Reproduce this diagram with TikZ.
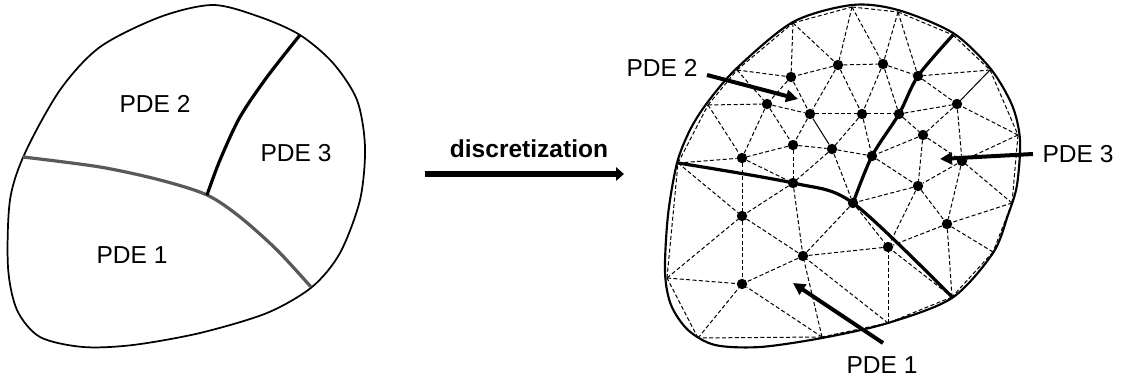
\documentclass[tikz,border=0pt]{standalone}
\usepackage{fontspec}
\setmainfont{Liberation Sans}
\usetikzlibrary{arrows.meta}

\begin{document}
\begin{tikzpicture}[
			x=0.75pt, y=-0.75pt,
			lbl/.style={font=\fontsize{18.4}{22}\selectfont, inner sep=0pt, anchor=base},
			outline/.style={line width=1.3pt},
			border/.style={line width=2.4pt},
			mesh/.style={line width=0.75pt, dash pattern=on 3pt off 1.8pt},
			edge/.style={line width=0.75pt},
			dot/.style={circle, fill=black, inner sep=0pt, minimum size=7.8pt},
			pointer/.style={line width=3pt, -{Triangle[length=9pt,width=9pt]}}
		]
		\useasboundingbox (0,0) rectangle (1121,381);
		\draw[outline] plot[smooth cycle] coordinates {(213,5) (160,17) (100,47) (60,90) (25,153) (10,200) (8,267) (17,310) (40,337) (83,347) (133,345) (200,333) (267,313) (312,287) (340,253) (360,200) (365,147) (357,100) (333,63) (300,35) (260,17)};
		\draw[border, color=black!65] plot[smooth] coordinates {(23,157) (100,167) (160,180) (207,195) (240,217) (277,250) (311,287)};
		\draw[border] plot[smooth] coordinates {(300,35) (267,77) (240,117) (220,160) (207,195)};
		\node[lbl] (left2) at (155,113) {PDE 2};
		\node[lbl] (left3) at (296,162) {PDE 3};
		\node[lbl] (left1) at (132,263) {PDE 1};
		\node[lbl, font=\fontsize{18.4}{22}\selectfont\bfseries] (disc) at (529,158) {discretization};
		\coordinate (ds) at (425,174);
		\coordinate (de) at (624,174);
		\draw[line width=4.5pt, -{Triangle[length=6pt,width=10pt]}] (ds) -- (de);
		\foreach \vid/\x/\y in {b1/852/7, b2/898/12, b3/793/23, b4/953/35, b5/990/70, b6/737/70, b7/708/105, b8/1018/135, b9/678/163, b10/667/278, b11/698/338, b12/822/337, b13/888/323, b14/952/297, b15/993/252, b16/1012/203}
			\coordinate (\vid) at (\x,\y);
		\foreach \vid/\x/\y in {n1/838/65, n2/883/64, n3/791/77, n4/918/76, n5/767/104, n6/810/114, n7/862/114, n8/899/114, n9/957/104, n10/923/135, n11/793/145, n12/832/149, n13/872/156, n14/742/158, n15/962/161, n16/793/183, n17/918/186, n18/853/203, n19/742/216, n20/947/224, n21/888/247, n22/803/256, n23/742/284}
			\node[dot] (\vid) at (\x,\y) {};
		\foreach \a/\b in {b1/b2, b2/b4, b4/b5, b5/b8, b8/b16, b16/b15, b15/b14, b14/b13, b13/b12, b12/b11, b11/b10, b10/b9, b9/b7, b7/b6, b6/b3, b3/b1,
				b3/n3, b3/n1, b1/n1, b1/n2, b2/n2, b2/n4, b6/n3, b6/n5, b7/n5, b7/n14, b9/n14, b9/n19, b10/n19, b10/n23, b11/n23, b12/n23, b12/n22, b13/n22, b13/n21, b14/n21, b14/n20, b15/n20, b16/n20, b16/n15, b8/n15, b8/n9, b5/n4,
				n1/n3, n1/n2, n1/n6, n1/n7, n2/n7, n2/n8, n2/n4, n3/n5, n3/n6, n4/n9, n5/n6, n5/n11, n5/n14, n6/n7, n6/n11, n7/n8, n7/n12, n7/n13, n8/n9, n8/n10, n9/n10, n9/n15, n10/n13, n10/n15, n10/n17, n11/n12, n11/n14, n11/n16, n12/n13, n12/n16, n12/n18, n13/n17, n14/n16, n14/n19, n15/n17, n15/n20, n16/n19, n16/n22, n17/n18, n17/n20, n17/n21, n18/n21, n18/n22, n19/n22, n19/n23, n20/n21, n21/n22, n22/n23}
			\draw[mesh] (\a) -- (\b);
		\draw[edge] (n6) -- (n12);
		\draw[edge] (n9) -- (b5);
		\draw[border] plot[smooth] coordinates {(b9) (n16.center) (n18.center) (b14)};
		\draw[border] plot[smooth] coordinates {(b4) (n4.center) (n8.center) (n13.center) (n18.center)};
		\draw[outline, line width=1.6pt] plot[smooth cycle] coordinates {(665,272) (668,215) (677,163) (690,130) (707,103) (737,68) (793,22) (852,5) (898,10) (953,33) (990,68) (1012,105) (1020,140) (1017,185) (1008,215) (993,253) (952,298) (888,323) (822,338) (760,347) (715,345) (688,330) (671,305)};
		\node[lbl] (right2) at (662,77) {PDE 2};
		\node[lbl] (right3) at (1078,163) {PDE 3};
		\node[lbl] (right1) at (882,373) {PDE 1};
		\coordinate (p2s) at (707,75);
		\coordinate (p2e) at (798,99);
		\coordinate (p3s) at (1033,154);
		\coordinate (p3e) at (940,159);
		\coordinate (p1s) at (883,343);
		\coordinate (p1e) at (793,283);
		\draw[pointer] (p2s) -- (p2e);
		\draw[pointer] (p3s) -- (p3e);
		\draw[pointer] (p1s) -- (p1e);
	\end{tikzpicture}
\end{document}
